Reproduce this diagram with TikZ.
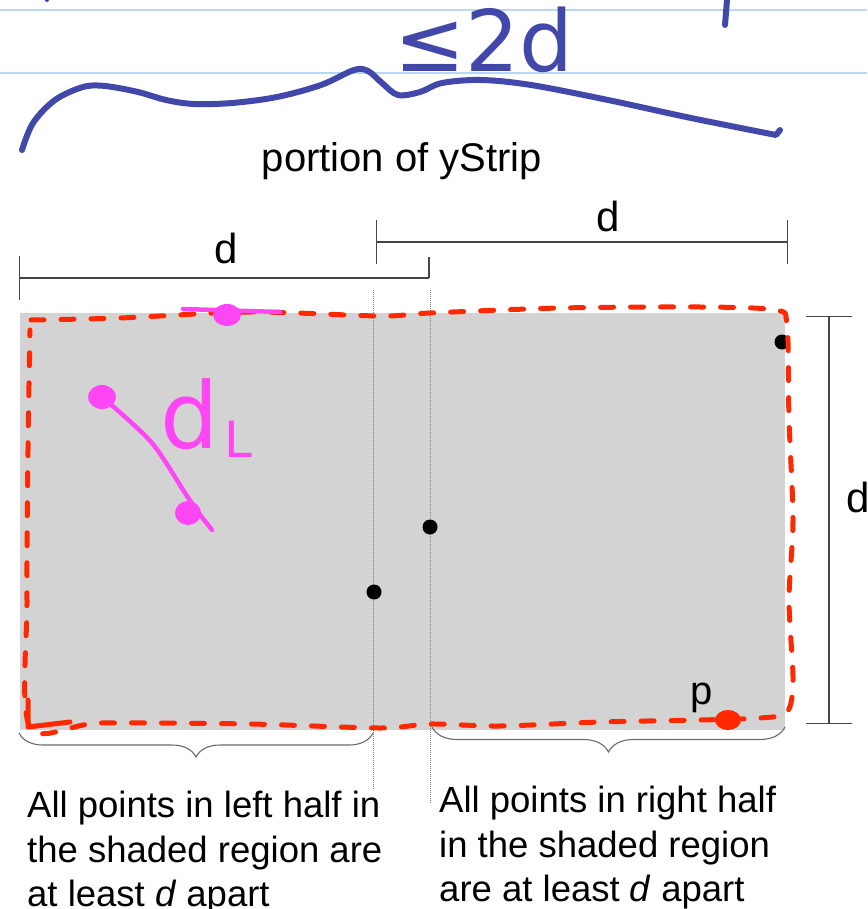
\documentclass[tikz,border=0pt]{standalone}
\usepackage{fontspec}
\setmainfont{Liberation Sans}
\newfontfamily\handfont{DejaVu Sans}
\usepackage{tikz}
\usetikzlibrary{arrows.meta,positioning,calc,decorations.pathreplacing}
\definecolor{inkblue}{RGB}{65,72,170}
\definecolor{inkred}{RGB}{255,40,0}
\definecolor{inkpink}{RGB}{255,70,245}
\definecolor{ruleblue}{RGB}{185,215,245}
\definecolor{shade}{RGB}{211,211,211}
\definecolor{dimgray}{RGB}{70,70,70}

\begin{document}
\begin{tikzpicture}[x=1pt, y=-1pt,
  dimline/.style={draw=dimgray, line width=1.4pt},
  guide/.style={draw=gray, line width=1pt, densely dotted},
  brc/.style={draw=dimgray!80, line width=1.1pt, decorate},
  pt/.style={circle, fill=black, inner sep=0pt, minimum size=15pt},
  lbl/.style={font=\fontsize{42}{48}\selectfont, inner sep=0pt},
  note/.style={font=\fontsize{36.5}{44.5}\selectfont, align=left,
               anchor=north west, inner sep=0pt},
  bluepen/.style={draw=inkblue, line width=6pt, line cap=round, line join=round},
  redpen/.style={draw=inkred, line width=5pt, line cap=round, line join=round},
  pinkpen/.style={draw=inkpink, line width=4.5pt, line cap=round, line join=round}]
  \useasboundingbox (0,0) rectangle (867,909);
  \clip (0,0) rectangle (867,909);

  % ruled paper
  \foreach \y in {10,73}
    \draw[ruleblue, line width=2pt] (0,\y) -- (867,\y);

  % shaded region and the two dividing lines
  \node[fill=shade, inner sep=0pt, anchor=north west,
        minimum width=765pt, minimum height=417pt] (region) at (20,313) {};
  \coordinate (gL1) at (373,290); \coordinate (gL2) at (373,790);
  \coordinate (gR1) at (430,290); \coordinate (gR2) at (430,803);
  \draw[guide] (gL1) -- (gL2);
  \draw[guide] (gR1) -- (gR2);

  \node[pt] (q1) at (374,592) {};
  \node[pt] (q2) at (430,527) {};
  \node[pt] (q3) at (782,342) {};
  \node[lbl, font=\fontsize{40}{48}\selectfont, anchor=base] (plbl) at (702,704) {p};

  % dimensions
  \coordinate (dA1) at (19,278);  \coordinate (dA2) at (429,278);
  \coordinate (dB1) at (376,242); \coordinate (dB2) at (788,242);
  \coordinate (dC1) at (829,316); \coordinate (dC2) at (829,724);
  \draw[dimline, {Bar[width=44pt]}-] (dA1) -- (dA2);
  \draw[dimline] (dA2) -- ++(0,-21);
  \draw[dimline, {Bar[width=44pt]}-{Bar[width=44pt]}] (dB1) -- (dB2);
  \draw[dimline, {Bar[width=46pt]}-{Bar[width=46pt]}] (dC1) -- (dC2);
  \node[lbl, anchor=base] (dA) at (226,263) {d};
  \node[lbl, anchor=base] (dB) at (608,232) {d};
  \node[lbl, anchor=base west] (dC) at (846,512) {d};

  \node[lbl, font=\fontsize{40}{48}\selectfont, anchor=base] (title) at (402,172) {portion of yStrip};

  % braces and notes
  \coordinate (bL1) at (19,733);  \coordinate (bL2) at (373,733);
  \coordinate (bR1) at (432,727); \coordinate (bR2) at (785,727);
  \draw[brc, decoration={brace, mirror, amplitude=24pt}] (bL1) -- (bL2);
  \draw[brc, decoration={brace, mirror, amplitude=25pt}] (bR1) -- (bR2);
  \node[note] (left) at (27,791)
    {All points in left half in\\the shaded region are\\at least \textit{d} apart};
  \node[note] (right) at (439,786)
    {All points in right half\\in the shaded region\\are at least \textit{d} apart};

  % handwriting: blue
  \draw[bluepen] plot[smooth, tension=0.55] coordinates {(22,150) (33,123) (55,100)
    (83,87) (105,86) (138,92) (166,100) (194,104) (232,103) (277,97) (321,85)
    (354,70) (368,71) (382,83) (398,95) (420,92) (442,83) (481,80) (531,85)
    (608,100) (691,118) (776,135)} -- (780,130);
  \draw[bluepen] (727,0) -- (725,25);
  \draw[bluepen, line width=4pt] (45,-3) -- (47,0);
  \node[font=\handfont\fontsize{85}{85}\selectfont, text=inkblue, inner sep=0pt,
        anchor=base] (le2d) at (484,72) {≤2d};

  % handwriting: red border
  \draw[redpen, dash pattern=on 13pt off 17pt] plot[smooth, tension=0.5] coordinates {
    (31,320) (120,318) (250,312) (380,316) (430,313) (560,308) (700,307) (775,310)
    (787,325) (789,420) (793,520) (789,600) (793,680) (787,712) (760,718)
    (700,720) (600,722) (500,726) (430,724) (380,728) (250,724) (100,723)
    (30,727) (27,600) (28,450) (30,330)};
  \draw[redpen] (28,700) -- (28,727) -- (70,722);
  \fill[inkred] (728,720) ellipse (13pt and 10pt);

  % handwriting: magenta
  \draw[pinkpen] (183,309) -- (280,312);
  \fill[inkpink] (227,315) ellipse (14pt and 11pt);
  \fill[inkpink] (102,397) ellipse (14pt and 12pt);
  \fill[inkpink] (188,513) ellipse (13pt and 12pt);
  \draw[pinkpen] plot[smooth] coordinates {(108,402) (152,443) (185,493) (198,512) (212,530)};
  \node[font=\handfont\fontsize{92}{92}\selectfont, text=inkpink, inner sep=0pt,
        anchor=base west] (dL) at (160,448)
    {d\hspace{6pt}\raisebox{-9pt}{\fontsize{50}{50}\selectfont L}};
\end{tikzpicture}
\end{document}
